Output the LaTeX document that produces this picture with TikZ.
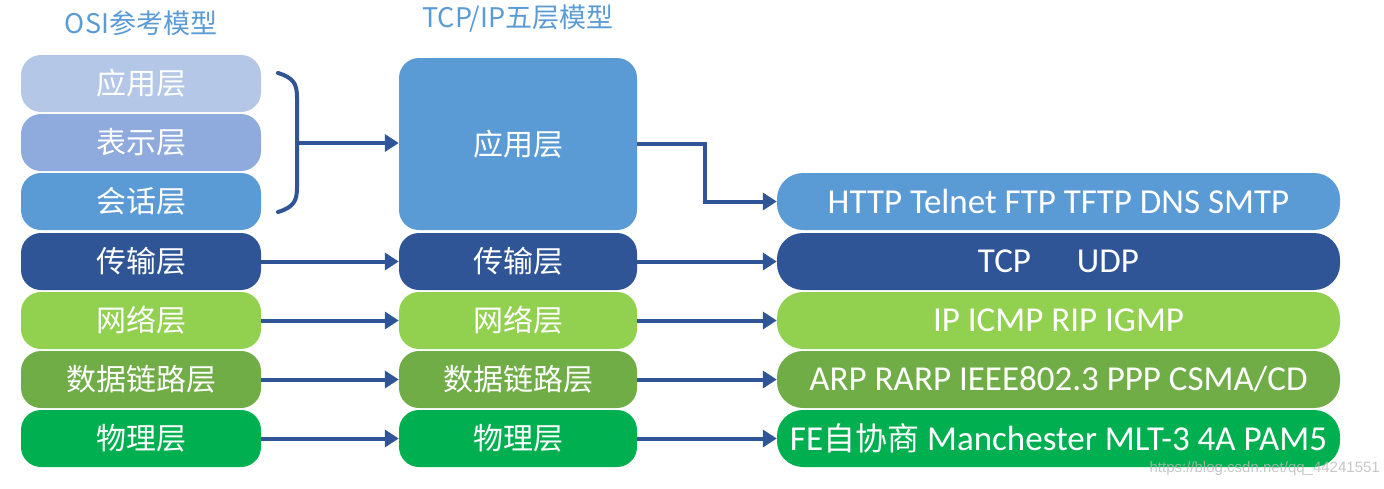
\documentclass[tikz,border=0pt]{standalone}
\usepackage{fontspec}
\setmainfont{Carlito}
\newfontfamily\cjk{Noto Sans CJK SC}
\newfontfamily\wmfont{Liberation Sans}
\usetikzlibrary{arrows.meta}
\definecolor{cApp}{HTML}{B4C7E7}
\definecolor{cPre}{HTML}{8FAADC}
\definecolor{cSes}{HTML}{5B9BD5}
\definecolor{cTra}{HTML}{2F5597}
\definecolor{cNet}{HTML}{92D050}
\definecolor{cDat}{HTML}{70AD47}
\definecolor{cPhy}{HTML}{00B050}
\definecolor{cArr}{HTML}{2F5597}
\definecolor{cTitle}{HTML}{5B9BD5}
\tikzset{
  layer/.style={rectangle, rounded corners=20pt, minimum height=57pt, inner sep=0pt,
    text=white, font=\fontsize{30}{32}\selectfont\cjk},
  osibox/.style={layer, minimum width=240pt},
  tcpbox/.style={layer, minimum width=238pt},
  protobox/.style={layer, minimum width=563pt, rounded corners=26pt,
    font=\fontsize{35}{37}\selectfont},
  title/.style={text=cTitle, font=\fontsize{27}{29}\selectfont\cjk, inner sep=0pt},
  conn/.style={draw=cArr, line width=4pt, -{Triangle[length=14pt,width=17pt]}},
  brace/.style={draw=cArr, line width=4pt, line cap=round}
}
\begin{document}
\begin{tikzpicture}[x=1pt,y=-1pt]
\useasboundingbox (0,0) rectangle (1384,488);
% titles
\node[title] (t1) at (141,23) {OSI参考模型};
\node[title] (t2) at (518,19) {TCP/IP五层模型};
% OSI column
\node[osibox, fill=cApp] (l1) at (141,83.5) {应用层};
\node[osibox, fill=cPre] (l2) at (141,142.5) {表示层};
\node[osibox, fill=cSes] (l3) at (141,201.5) {会话层};
\node[osibox, fill=cTra] (l4) at (141,261.5) {传输层};
\node[osibox, fill=cNet] (l5) at (141,320.5) {网络层};
\node[osibox, fill=cDat] (l6) at (141,379.5) {数据链路层};
\node[osibox, fill=cPhy] (l7) at (141,438.5) {物理层};
% TCP/IP column
\node[tcpbox, fill=cSes, minimum height=172pt] (m1) at (518,144) {应用层};
\node[tcpbox, fill=cTra] (m4) at (518,261.5) {传输层};
\node[tcpbox, fill=cNet] (m5) at (518,320.5) {网络层};
\node[tcpbox, fill=cDat] (m6) at (518,379.5) {数据链路层};
\node[tcpbox, fill=cPhy] (m7) at (518,438.5) {物理层};
% protocol column
\node[protobox, fill=cSes] (r3) at (1058.5,201.5) {HTTP Telnet FTP TFTP DNS SMTP};
\node[protobox, fill=cTra] (r4) at (1058.5,261.5) {TCP\hskip 46pt UDP};
\node[protobox, fill=cNet] (r5) at (1058.5,320.5) {IP ICMP RIP IGMP};
\node[protobox, fill=cDat] (r6) at (1058.5,379.5) {ARP RARP IEEE802.3 PPP CSMA/CD};
\node[protobox, fill=cPhy] (r7) at (1058.5,438.5) {FE{\cjk\fontsize{32}{34}\selectfont 自协商} Manchester MLT-3 4A PAM5};
% brace
\coordinate (b1) at (278,73);
\coordinate (b2) at (278,212);
\coordinate (bm) at (297,143);
\draw[brace] (b1) .. controls (294,78) and (297,84) .. (297,98) -- (297,187) .. controls (297,201) and (294,207) .. (b2);
\draw[conn] (bm) -- (m1.west |- bm);
% connectors
\coordinate (e) at (705,144);
\draw[conn] (m1.east |- e) -- (e) |- (r3.west);
\draw[conn] (l4.east) -- (m4.west);
\draw[conn] (l5.east) -- (m5.west);
\draw[conn] (l6.east) -- (m6.west);
\draw[conn] (l7.east) -- (m7.west);
\draw[conn] (m4.east) -- (r4.west);
\draw[conn] (m5.east) -- (r5.west);
\draw[conn] (m6.east) -- (r6.west);
\draw[conn] (m7.east) -- (r7.west);
% watermark
\node[text=gray!55, opacity=0.8, font=\fontsize{15}{16}\selectfont\wmfont, anchor=east, inner sep=0pt] (wm) at (1380,469) {https://blog.csdn.net/qq\_44241551};
\end{tikzpicture}
\end{document}
